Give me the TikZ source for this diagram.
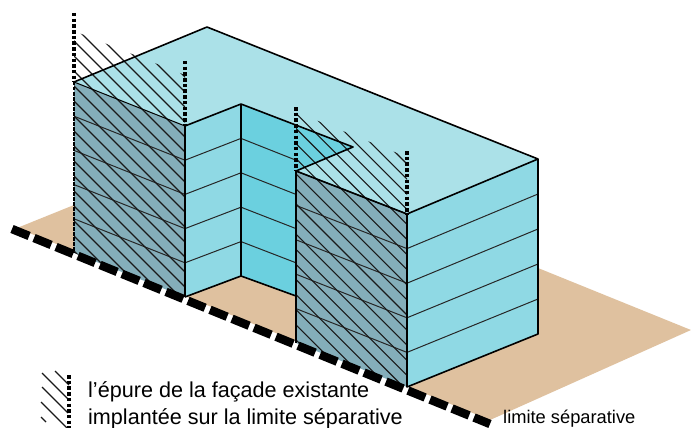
\documentclass[tikz,border=0pt]{standalone}
\usepackage{fontspec}
\setmainfont{Liberation Sans}
\definecolor{roofc}{HTML}{ABE1E8}
\definecolor{wallc}{HTML}{8FD9E4}
\definecolor{innerc}{HTML}{6BD0DF}
\definecolor{facec}{HTML}{84AEBA}
\definecolor{groundc}{HTML}{DFC19F}
\tikzset{
  edge/.style={black,line width=1.6pt,line join=round},
  floorline/.style={black!85,line width=1pt},
  hatchline/.style={black!90,line width=1.1pt},
  limitline/.style={black,line width=8.5pt,dash pattern=on 18.5pt off 5.26pt},
  plumb/.style={black,line width=3.2pt,dash pattern=on 3.5pt off 2.2pt},
  plumbthin/.style={black,line width=2pt,dash pattern=on 3.5pt off 1.5pt},
  legendtext/.style={anchor=base west,inner sep=0pt,font=\fontsize{21.6}{21.6}\selectfont},
  smalltext/.style={anchor=base west,inner sep=0pt,font=\fontsize{18.3}{18.3}\selectfont}
}
\begin{document}
\begin{tikzpicture}[x=1pt,y=-1pt]
\useasboundingbox (0,0) rectangle (691,428);
% named points
\coordinate (A) at (74,82);
\coordinate (Ab) at (74,253);
\coordinate (B) at (185,126);
\coordinate (Bb) at (185,297);
\coordinate (I) at (241,104);
\coordinate (Ib) at (241,276);
\coordinate (N) at (353,147);
\coordinate (F) at (296,171);
\coordinate (Fb) at (296,343);
\coordinate (G) at (407,214);
\coordinate (Gb) at (407,387);
\coordinate (R) at (538,159);
\coordinate (Rb) at (538,334);
\coordinate (T) at (207,27);
\coordinate (Kb) at (296,296);
\coordinate (L1) at (12,229);
\coordinate (L2) at (490,424);
% ground
\fill[groundc] (17,228) -- (74,205) -- (538,268) -- (691,330) -- (490,420) -- cycle;
\fill[groundc] (74,205) -- (538,160) -- (538,268) -- cycle;
% faces
\fill[roofc] (A) -- (T) -- (R) -- (G) -- (F) -- (N) -- (I) -- (B) -- cycle;
\fill[wallc] (B) -- (I) -- (Ib) -- (Bb) -- cycle;
\fill[innerc] (I) -- (N) -- (F) -- (Kb) -- (Ib) -- cycle;
\fill[wallc] (G) -- (R) -- (Rb) -- (Gb) -- cycle;
\fill[facec] (A) -- (B) -- (Bb) -- (Ab) -- cycle;
\fill[facec] (F) -- (G) -- (Gb) -- (Fb) -- cycle;
% floor lines
\foreach \k in {1,2,3,4}{
  \draw[floorline] (74,{82+34.2*\k}) -- (185,{126+34.2*\k});
  \draw[floorline] (185,{126+34.2*\k}) -- (241,{104+34.4*\k}) -- (296,{126+34.2*\k});
  \draw[floorline] (296,{171+34.4*\k}) -- (407,{214+34.6*\k});
  \draw[floorline] (407,{214+34.6*\k}) -- (538,{159+35*\k});
}
% hatching
\begin{scope}
\clip (74,31) -- (185,75) -- (Bb) -- (Ab) -- cycle;
\foreach \k in {0,...,20}{
  \draw[hatchline] (60,{60-108+15*\k}) -- (200,{200-108+15*\k});
}
\end{scope}
\begin{scope}
\clip (296,112) -- (407,157) -- (Gb) -- (Fb) -- cycle;
\foreach \k in {0,...,21}{
  \draw[hatchline] (280,{280-243+15.1*\k}) -- (420,{420-243+15.1*\k});
}
\end{scope}
% edges
\draw[edge] (A) -- (T) -- (R) -- (G) -- (F) -- (N) -- (I) -- (B);
\draw[edge] (I) -- (Ib);
\draw[edge] (B) -- (Bb) (Bb) -- (Ib) -- (Kb);
\draw[edge] (F) -- (Fb);
\draw[edge] (G) -- (Gb) -- (Rb) -- (R);
\draw[black,line width=1pt] (A) -- (B) (F) -- (G);
% limit line
\draw[limitline] (L1) -- (L2);
% plumb lines
\draw[plumb] (74,13) -- (A);
\draw[plumb] (185,61) -- (B);
\draw[plumb] (296,107) -- (F);
\draw[plumb] (407,151) -- (G);
\draw[plumbthin] (A) -- (Ab);
\draw[plumbthin] (B) -- (Bb);
\draw[plumbthin] (F) -- (Fb);
\draw[plumbthin] (G) -- (Gb);
% legend
\draw[hatchline] (55,371) -- (69,385);
\draw[hatchline] (42,373) -- (68,399);
\draw[hatchline] (42,387) -- (68,413);
\draw[hatchline] (41,402) -- (67,428);
\draw[hatchline] (41,417) -- (46,422);
\draw[plumb] (69,375) -- (69,428);
\node[legendtext] (t1) at (88,397) {l’épure de la façade existante};
\node[legendtext] (t2) at (88,424) {implantée sur la limite séparative};
\node[smalltext] (t3) at (503,423) {limite séparative};
\end{tikzpicture}
\end{document}
